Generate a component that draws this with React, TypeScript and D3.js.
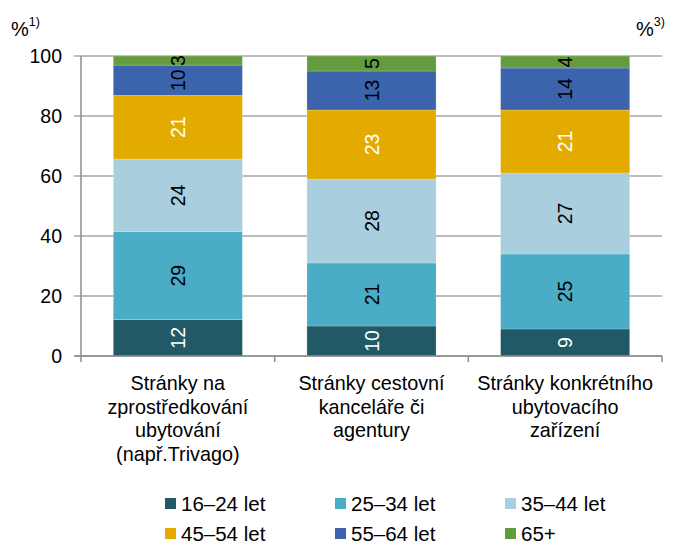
import React from "react";
import * as d3 from "d3";

const categories = ["cat1", "cat2", "cat3"];
const categoryLines = [
  ["Stránky na", "zprostředkování", "ubytování", "(např.Trivago)"],
  ["Stránky cestovní", "kanceláře či", "agentury"],
  ["Stránky konkrétního", "ubytovacího", "zařízení"],
];
const seriesNames = ["16–24 let", "25–34 let", "35–44 let", "45–54 let", "55–64 let", "65+"];
const colors = ["#215967", "#4BACC6", "#A9CEDD", "#E3AB00", "#3B64AD", "#639B3E"];
const labelColors = ["#fff", "#000", "#000", "#fff", "#000", "#000"];
// values per series, one per category
const age1624 = [12, 10, 9];
const age2534 = [29, 21, 25];
const age3544 = [24, 28, 27];
const age4554 = [21, 23, 21];
const age5564 = [10, 13, 14];
const age65 = [3, 5, 4];
const yTicks = [0, 20, 40, 60, 80, 100];

const font = "'Liberation Sans', Arial, sans-serif";

export default function App() {
  const width = 676;
  const height = 545;
  const left = 81;
  const right = 662;
  const top = 56;
  const bottom = 356;

  const allSeries = [age1624, age2534, age3544, age4554, age5564, age65];
  const rows = categories.map((c, i) => {
    const row: any = { cat: c };
    seriesNames.forEach((s, j) => (row[s] = allSeries[j][i]));
    return row;
  });
  // normalise each bar to 100 %
  const stacked = d3.stack().keys(seriesNames).offset(d3.stackOffsetExpand)(rows);

  const x = d3
    .scaleBand()
    .domain(categories)
    .range([left, right])
    .paddingInner(1 / 3)
    .paddingOuter(1 / 6);
  const y = d3.scaleLinear().domain([0, 100]).range([bottom, top]);
  const step = x.step();
  const boundaries = d3.range(categories.length + 1).map((i) => left + i * step);

  return (
    <svg
      width={width}
      height={height}
      style={{ position: "absolute", left: 0, top: 0, fontFamily: font }}
    >
      {/* gridlines */}
      {yTicks.map((t) => (
        <g key={t}>
          <line x1={74} x2={right} y1={y(t)} y2={y(t)} stroke="#A6A6A6" strokeWidth={1.3} />
          <text x={62} y={y(t)} dy="0.35em" textAnchor="end" fontSize={19.5} fill="#000">
            {t}
          </text>
        </g>
      ))}
      {/* bars */}
      {stacked.map((layer, j) => (
        <g key={layer.key}>
          {layer.map((d, i) => {
            const y0 = y(d[0] * 100);
            const y1 = y(d[1] * 100);
            const cx = (x(categories[i]) as number) + x.bandwidth() / 2;
            const cy = (y0 + y1) / 2;
            return (
              <g key={i}>
                <rect
                  x={x(categories[i])}
                  y={y1}
                  width={x.bandwidth()}
                  height={y0 - y1}
                  fill={colors[j]}
                  stroke="rgba(255,255,255,0.35)"
                  strokeWidth={0.6}
                />
                <text
                  transform={`translate(${cx},${cy}) rotate(-90)`}
                  textAnchor="middle"
                  dy="0.36em"
                  fontSize={19.5}
                  fill={labelColors[j]}
                >
                  {allSeries[j][i]}
                </text>
              </g>
            );
          })}
        </g>
      ))}
      {/* axes */}
      <line x1={left} x2={left} y1={top} y2={bottom} stroke="#8C8C8C" strokeWidth={1.5} />
      <line x1={74} x2={right} y1={bottom} y2={bottom} stroke="#8C8C8C" strokeWidth={1.5} />
      {boundaries.map((b, i) => (
        <line key={i} x1={b} x2={b} y1={bottom} y2={bottom + 6} stroke="#8C8C8C" strokeWidth={1.5} />
      ))}
      {/* category labels */}
      {categories.map((c, i) => (
        <text
          key={c}
          x={(x(c) as number) + x.bandwidth() / 2}
          y={390}
          textAnchor="middle"
          fontSize={19.8}
          fill="#000"
        >
          {categoryLines[i].map((l, k) => (
            <tspan key={k} x={(x(c) as number) + x.bandwidth() / 2} dy={k === 0 ? 0 : 23.5}>
              {l}
            </tspan>
          ))}
        </text>
      ))}
      {/* unit labels */}
      <text x={11} y={36} fontSize={20}>
        %<tspan fontSize={12.5} dy={-10}>1)</tspan>
      </text>
      <text x={636} y={36} fontSize={20}>
        %<tspan fontSize={12.5} dy={-10}>3)</tspan>
      </text>
      {/* legend */}
      {seriesNames.map((s, i) => {
        const col = i % 3;
        const row = Math.floor(i / 3);
        const lx = 165 + col * 170;
        const ly = 498 + row * 30;
        return (
          <g key={s}>
            <rect x={lx} y={ly} width={11} height={11} fill={colors[i]} />
            <text x={lx + 16} y={ly + 5.5} dy="0.36em" fontSize={20.5} fill="#000">
              {s}
            </text>
          </g>
        );
      })}
    </svg>
  );
}
